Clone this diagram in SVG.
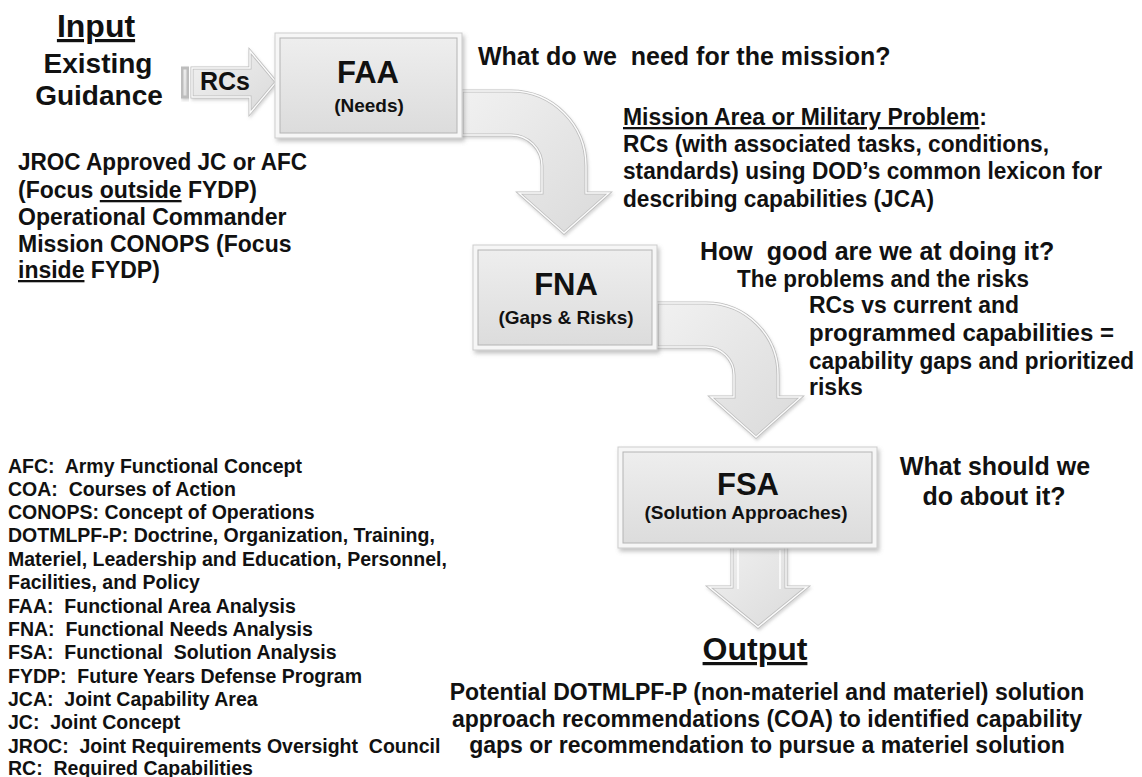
<svg xmlns="http://www.w3.org/2000/svg" width="1142" height="777" viewBox="0 0 1142 777">
<style>
text{font-family:"Liberation Sans",Arial,sans-serif;font-weight:bold;fill:#111}
.t32{font-size:32px}
.t28{font-size:28px}
.t25{font-size:25px}
.t23{font-size:23px}
.t19{font-size:19px}
.t31{font-size:31px}
.leg{font-size:19.5px;white-space:pre}
.mid{text-anchor:middle}
.u{text-decoration:underline}
.box-outer{fill:#f6f6f6;stroke:#cdcdcd;stroke-width:1;filter:url(#sh)}
.box-inner{fill:url(#boxg);stroke:#b4b4b4;stroke-width:1}
.arrow{fill:url(#arrg);stroke:#bdbdbd;stroke-width:3;stroke-linejoin:miter;filter:url(#ash)}
.arrow-hl{fill:none;stroke:#fbfbfb;stroke-width:1.4;stroke-linejoin:miter}
.bevel{stroke:#ffffff;stroke-width:1.6;opacity:.9}
</style>
<defs>
<linearGradient id="boxg" x1="0" y1="0" x2="0" y2="1">
<stop offset="0" stop-color="#eeeeee"/>
<stop offset="1" stop-color="#dcdcdc"/>
</linearGradient>
<linearGradient id="arrg" x1="0" y1="0" x2="1" y2="1">
<stop offset="0" stop-color="#f1f1f1"/>
<stop offset="1" stop-color="#dadada"/>
</linearGradient>
<filter id="sh" x="-10%" y="-10%" width="125%" height="130%">
<feDropShadow dx="2" dy="3" stdDeviation="2" flood-color="#777" flood-opacity="0.45"/>
</filter>
<filter id="ash" x="-10%" y="-10%" width="125%" height="125%">
<feDropShadow dx="1" dy="2" stdDeviation="1.5" flood-color="#888" flood-opacity="0.35"/>
</filter>
<path id="p-rcs" d="M192 68 L250 68 L250 51 L276 82 L250 113 L250 97 L192 97 Z"/>
<path id="p-faa-fna" d="M462 91 L511 91 A75 75 0 0 1 586 166 L586 193 L609 193 L564 233 L519 193 L542 193 L542 166 A31 31 0 0 0 511 135 L462 135 Z"/>
<path id="p-fna-fsa" d="M657 303 L706 303 A72 72 0 0 1 778 375 L778 397 L801 397 L756 437 L711 397 L734 397 L734 375 A28 28 0 0 0 706 347 L657 347 Z"/>
<path id="p-fsa-out" d="M732 540 L786 540 L786 587 L807 587 L758 627 L709 587 L732 587 Z"/>
</defs>
<rect width="1142" height="777" fill="#ffffff"/>

<g id="connectors">
<g id="rcs-arrow">
<rect class="arrow" x="182" y="68" width="6" height="29"/>
<use href="#p-rcs" class="arrow"/>
<use href="#p-rcs" class="arrow-hl"/>
<text class="t25" x="200" y="90">RCs</text>
</g>
<g id="faa-fna">
<use href="#p-faa-fna" class="arrow"/>
<use href="#p-faa-fna" class="arrow-hl"/>
</g>
<g id="fna-fsa">
<use href="#p-fna-fsa" class="arrow"/>
<use href="#p-fna-fsa" class="arrow-hl"/>
</g>
<g id="fsa-output">
<use href="#p-fsa-out" class="arrow"/>
<use href="#p-fsa-out" class="arrow-hl"/>
<line class="bevel" x1="738" y1="550" x2="738" y2="589"/>
<line class="bevel" x1="780" y1="550" x2="780" y2="589"/>
</g>
</g>

<g id="input">
<text class="t32 mid u" x="96" y="37">Input</text>
<text class="t28 mid" x="98" y="73">Existing</text>
<text class="t28 mid" x="99" y="105">Guidance</text>
</g>

<g id="faa">
<rect class="box-outer" x="275" y="33" width="187" height="105"/>
<rect class="box-inner" x="280" y="38" width="177" height="95"/>
<text class="t31 mid" x="368" y="83">FAA</text>
<text class="t19 mid" x="369" y="112">(Needs)</text>
</g>

<g id="fna">
<rect class="box-outer" x="473" y="245" width="184" height="105"/>
<rect class="box-inner" x="478" y="250" width="174" height="95"/>
<text class="t31 mid" x="566" y="295">FNA</text>
<text class="t19 mid" x="566" y="324">(Gaps &amp; Risks)</text>
</g>

<g id="fsa">
<rect class="box-outer" x="618" y="447" width="259" height="101"/>
<rect class="box-inner" x="623" y="452" width="249" height="91"/>
<text class="t31 mid" x="748" y="495">FSA</text>
<text class="t19 mid" x="746" y="519">(Solution Approaches)</text>
</g>

<g id="guidance-text">
<text class="t23" x="18" y="170" textLength="289" lengthAdjust="spacingAndGlyphs">JROC Approved JC or AFC</text>
<text class="t23" x="18" y="198">(Focus <tspan class="u">outside</tspan> FYDP)</text>
<text class="t23" x="18" y="225">Operational Commander</text>
<text class="t23" x="18" y="252">Mission CONOPS (Focus</text>
<text class="t23" x="18" y="278"><tspan class="u">inside</tspan> FYDP)</text>
</g>

<g id="faa-text">
<text class="t25" x="478" y="65" xml:space="preserve">What do we  need for the mission?</text>
<text class="t23" x="623" y="125" textLength="364" lengthAdjust="spacingAndGlyphs"><tspan class="u">Mission Area or Military Problem</tspan>:</text>
<text class="t23" x="623" y="152" textLength="426" lengthAdjust="spacingAndGlyphs">RCs (with associated tasks, conditions,</text>
<text class="t23" x="623" y="179" textLength="479" lengthAdjust="spacingAndGlyphs">standards) using DOD’s common lexicon for</text>
<text class="t23" x="623" y="207" textLength="311" lengthAdjust="spacingAndGlyphs">describing capabilities (JCA)</text>
</g>

<g id="fna-text">
<text class="t25" x="700" y="260" xml:space="preserve">How  good are we at doing it?</text>
<text class="t23" x="737" y="287" textLength="292" lengthAdjust="spacingAndGlyphs">The problems and the risks</text>
<text class="t23" x="809" y="313" textLength="210" lengthAdjust="spacingAndGlyphs">RCs vs current and</text>
<text class="t23" x="809" y="341" textLength="305" lengthAdjust="spacingAndGlyphs">programmed capabilities =</text>
<text class="t23" x="809" y="369" textLength="325" lengthAdjust="spacingAndGlyphs">capability gaps and prioritized</text>
<text class="t23" x="809" y="395">risks</text>
</g>

<g id="fsa-text">
<text class="t25 mid" x="995" y="475">What should we</text>
<text class="t25 mid" x="994" y="505">do about it?</text>
</g>

<g id="output">
<text class="t32 mid u" x="755" y="660">Output</text>
<text class="t23 mid" x="767" y="700">Potential DOTMLPF-P (non-materiel and materiel) solution</text>
<text class="t23 mid" x="767" y="727">approach recommendations (COA) to identified capability</text>
<text class="t23 mid" x="767" y="753">gaps or recommendation to pursue a materiel solution</text>
</g>

<g id="legend">
<text class="leg" x="8" y="473" xml:space="preserve">AFC:  Army Functional Concept</text>
<text class="leg" x="8" y="496" xml:space="preserve">COA:  Courses of Action</text>
<text class="leg" x="8" y="519" xml:space="preserve">CONOPS: Concept of Operations</text>
<text class="leg" x="8" y="542" xml:space="preserve">DOTMLPF-P: Doctrine, Organization, Training,</text>
<text class="leg" x="8" y="566" xml:space="preserve">Materiel, Leadership and Education, Personnel,</text>
<text class="leg" x="8" y="589" xml:space="preserve">Facilities, and Policy</text>
<text class="leg" x="8" y="613" xml:space="preserve">FAA:  Functional Area Analysis</text>
<text class="leg" x="8" y="636" xml:space="preserve">FNA:  Functional Needs Analysis</text>
<text class="leg" x="8" y="659" xml:space="preserve">FSA:  Functional  Solution Analysis</text>
<text class="leg" x="8" y="683" xml:space="preserve">FYDP:  Future Years Defense Program</text>
<text class="leg" x="8" y="706" xml:space="preserve">JCA:  Joint Capability Area</text>
<text class="leg" x="8" y="729" xml:space="preserve">JC:  Joint Concept</text>
<text class="leg" x="8" y="753" xml:space="preserve">JROC:  Joint Requirements Oversight  Council</text>
<text class="leg" x="8" y="775" xml:space="preserve">RC:  Required Capabilities</text>
</g>
</svg>
